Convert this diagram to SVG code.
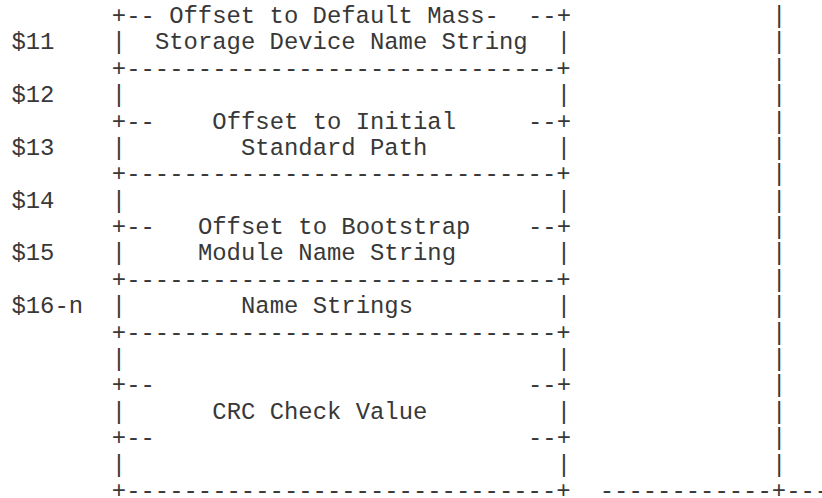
<svg xmlns="http://www.w3.org/2000/svg" width="822" height="498" viewBox="0 0 822 498" xml:space="preserve">
  <style>
    text { font-family: "Liberation Mono", "Courier New", monospace; font-size: 23.9px; fill: #383838; white-space: pre; }
  </style>
  <rect width="822" height="498" fill="#fff"/>

  <!-- Column grid: x = 11.4 + col * 14.35; row baselines 26.38 apart -->

  <!-- Byte offsets down the left margin -->
  <g id="offset-labels">
    <text x="11.4" y="49.4">$11</text>
    <text x="11.4" y="102.1">$12</text>
    <text x="11.4" y="154.9">$13</text>
    <text x="11.4" y="207.7">$14</text>
    <text x="11.4" y="260.4">$15</text>
    <text x="11.4" y="313.2">$16-n</text>
  </g>

  <!-- Offset to default mass-storage device name string -->
  <g id="field-mass-storage-name">
    <text x="111.85" y="23">+-- Offset to Default Mass-</text>
    <text x="528" y="23">--+</text>
    <text x="111.85" y="49.4">|</text>
    <text x="154.9" y="49.4">Storage Device Name String</text>
    <text x="556.7" y="49.4">|</text>
  </g>

  <!-- Offset to initial standard path -->
  <g id="field-initial-path">
    <text x="111.85" y="75.8">+------------------------------+</text>
    <text x="111.85" y="102.1">|</text>
    <text x="556.7" y="102.1">|</text>
    <text x="111.85" y="128.5">+--</text>
    <text x="212.3" y="128.5">Offset to Initial</text>
    <text x="528" y="128.5">--+</text>
    <text x="111.85" y="154.9">|</text>
    <text x="241" y="154.9">Standard Path</text>
    <text x="556.7" y="154.9">|</text>
  </g>

  <!-- Offset to bootstrap module name string -->
  <g id="field-bootstrap-name">
    <text x="111.85" y="181.3">+------------------------------+</text>
    <text x="111.85" y="207.7">|</text>
    <text x="556.7" y="207.7">|</text>
    <text x="111.85" y="234">+--</text>
    <text x="197.95" y="234">Offset to Bootstrap</text>
    <text x="528" y="234">--+</text>
    <text x="111.85" y="260.4">|</text>
    <text x="197.95" y="260.4">Module Name String</text>
    <text x="556.7" y="260.4">|</text>
  </g>

  <!-- Name strings -->
  <g id="field-name-strings">
    <text x="111.85" y="286.8">+------------------------------+</text>
    <text x="111.85" y="313.2">|</text>
    <text x="241" y="313.2">Name Strings</text>
    <text x="556.7" y="313.2">|</text>
  </g>

  <!-- CRC check value -->
  <g id="field-crc">
    <text x="111.85" y="339.6">+------------------------------+</text>
    <text x="111.85" y="365.9">|</text>
    <text x="556.7" y="365.9">|</text>
    <text x="111.85" y="392.3">+--</text>
    <text x="528" y="392.3">--+</text>
    <text x="111.85" y="418.7">|</text>
    <text x="212.3" y="418.7">CRC Check Value</text>
    <text x="556.7" y="418.7">|</text>
    <text x="111.85" y="445.1">+--</text>
    <text x="528" y="445.1">--+</text>
    <text x="111.85" y="471.5">|</text>
    <text x="556.7" y="471.5">|</text>
    <text x="111.85" y="497.8">+------------------------------+</text>
  </g>

  <!-- Outer bracket running down the right side -->
  <g id="connectors">
    <text x="771.95" y="23">|</text>
    <text x="771.95" y="49.4">|</text>
    <text x="771.95" y="75.8">|</text>
    <text x="771.95" y="102.1">|</text>
    <text x="771.95" y="128.5">|</text>
    <text x="771.95" y="154.9">|</text>
    <text x="771.95" y="181.3">|</text>
    <text x="771.95" y="207.7">|</text>
    <text x="771.95" y="234">|</text>
    <text x="771.95" y="260.4">|</text>
    <text x="771.95" y="286.8">|</text>
    <text x="771.95" y="313.2">|</text>
    <text x="771.95" y="339.6">|</text>
    <text x="771.95" y="365.9">|</text>
    <text x="771.95" y="392.3">|</text>
    <text x="771.95" y="418.7">|</text>
    <text x="771.95" y="445.1">|</text>
    <text x="771.95" y="471.5">|</text>
    <text x="599.75" y="497.8">------------+---</text>
  </g>
</svg>
